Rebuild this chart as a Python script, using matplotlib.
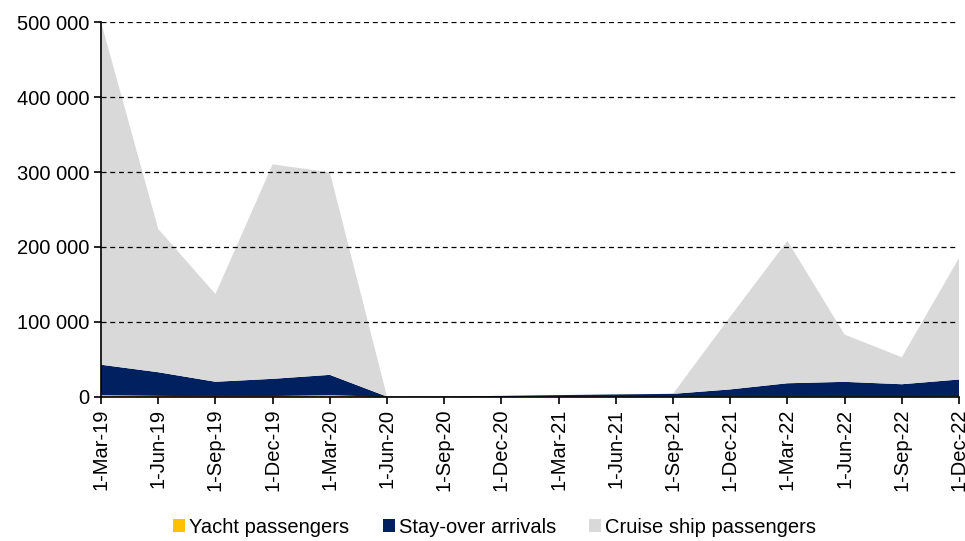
import numpy as np
import matplotlib.pyplot as plt
from matplotlib.ticker import FuncFormatter

plt.rcParams['font.family'] = ['Liberation Sans', 'DejaVu Sans']

quarters = ['1-Mar-19', '1-Jun-19', '1-Sep-19', '1-Dec-19', '1-Mar-20', '1-Jun-20',
            '1-Sep-20', '1-Dec-20', '1-Mar-21', '1-Jun-21', '1-Sep-21', '1-Dec-21',
            '1-Mar-22', '1-Jun-22', '1-Sep-22', '1-Dec-22']
yacht = [2500, 1500, 800, 1200, 2500, 0, 100, 200, 300, 400, 400, 600,
         800, 700, 500, 800]
stay_over = [40500, 31500, 19500, 23000, 27000, 500, 600, 1300, 2200, 3000, 3800, 9500,
             17500, 19500, 16500, 22500]
cruise = [457000, 191000, 117000, 286000, 270000, 0, 0, 0, 0, 0, 0, 97000,
          190000, 63000, 36000, 162000]

colors = ['#FFC000', '#002060', '#D9D9D9']
labels = ['Yacht passengers', 'Stay-over arrivals', 'Cruise ship passengers']

fig = plt.figure(figsize=(9.65, 5.41), dpi=100)
ax = fig.add_axes([0.1047, 0.2662, 0.8891, 0.6931])

x = np.arange(len(quarters))
ax.stackplot(x, yacht, stay_over, cruise, colors=colors, labels=labels,
             linewidth=0, zorder=2)

ax.set_xlim(0, len(quarters) - 1)
ax.set_ylim(0, 500000)
ax.set_yticks(np.arange(0, 500001, 100000))
ax.yaxis.set_major_formatter(FuncFormatter(lambda v, _: '{:,.0f}'.format(v).replace(',', ' ')))
ax.set_xticks(x)
ax.set_xticklabels(quarters, rotation=90)

ax.grid(axis='y', linestyle=(0, (4, 3)), color='black', linewidth=0.9, zorder=1)
ax.set_axisbelow(False)
for s in ['top', 'right']:
    ax.spines[s].set_visible(False)
for s in ['left', 'bottom']:
    ax.spines[s].set_linewidth(1.2)
    ax.spines[s].set_zorder(3)
ax.tick_params(axis='both', labelsize=14.5, direction='out', length=5, width=1.2)

ax.legend(loc='center', bbox_to_anchor=(0.459, -0.347), ncol=3, frameon=False,
          fontsize=14.5, handlelength=0.6, handleheight=0.6, handletextpad=0.2,
          columnspacing=1.65)

fig.savefig('out.png', dpi=100)
